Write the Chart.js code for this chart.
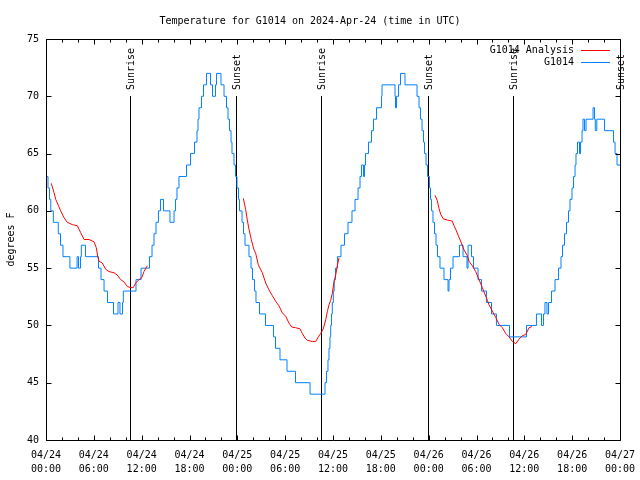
<!DOCTYPE html>
<html><head><meta charset="utf-8">
<script src="https://cdn.jsdelivr.net/npm/chart.js@4.4.1/dist/chart.umd.min.js"></script>
<style>html,body{margin:0;padding:0;background:#fff}#c{display:block}</style>
</head><body>
<canvas id="c" width="640" height="480"></canvas>
<script>
// ---- data (hours since 04/24 00:00 UTC) ----
const chartTitle = 'Temperature for G1014 on 2024-Apr-24 (time in UTC)';
const xTickHours = [0, 6, 12, 18, 24, 30, 36, 42, 48, 54, 60, 66, 72];
const xTickDates = ['04/24','04/24','04/24','04/24','04/25','04/25','04/25','04/25','04/26','04/26','04/26','04/26','04/27'];
const xTickTimes = ['00:00','06:00','12:00','18:00','00:00','06:00','12:00','18:00','00:00','06:00','12:00','18:00','00:00'];
const yTickValues = [40, 45, 50, 55, 60, 65, 70, 75];

// G1014 observations: change points (hour, degrees F)
const obsHours = [0.0,0.25,0.44,0.6,0.92,1.54,1.82,2.13,3.0,3.9,4.08,4.33,4.43,4.95,6.58,6.9,7.28,7.71,8.47,9.03,9.28,9.6,9.7,11.29,11.92,12.98,
  13.3,13.55,13.8,14.1,14.36,14.74,15.55,16.06,16.24,16.43,16.68,17.62,18.13,18.63,18.94,19.07,19.19,19.5,19.76,20.13,20.64,20.89,21.26,21.39,21.95,
  22.33,22.64,22.83,23.02,23.21,23.33,23.58,23.77,23.96,24.15,24.27,24.59,24.77,24.96,25.46,25.72,25.9,26.15,26.34,26.78,27.53,28.54,28.79,29.35,30.23,
  31.3,33.12,35.0,35.19,35.37,35.5,35.62,35.71,35.81,35.91,36.04,36.15,36.31,36.56,37.0,37.44,37.88,38.38,38.76,39.14,39.39,39.58,39.83,39.95,40.08,
  40.45,40.83,41.08,41.46,42.09,42.15,43.78,43.84,43.97,44.22,44.47,45.03,46.54,46.79,46.98,47.17,47.35,47.48,47.67,47.86,48.11,48.23,48.36,48.54,
  48.73,48.92,49.11,49.42,49.92,50.43,50.55,50.74,51.06,51.87,52.31,52.81,52.94,53.37,53.62,54.19,54.63,55.25,55.88,56.5,58.14,60.27,61.52,62.15,
  62.4,62.59,62.84,63.03,63.41,63.85,64.29,64.6,64.79,65.04,65.29,65.54,65.73,65.98,66.17,66.36,66.48,66.67,66.92,67.05,67.24,67.36,67.55,67.74,
  68.62,68.8,68.9,69.09,70.06,71.19,71.38,71.63,72.0];
const obsTemps = [63,62,61,60,59,58,57,56,55,56,55,56,57,56,55,54,53,52,51,52,51,52,53,54,55,56,
  57,58,59,60,61,60,59,60,61,62,63,64,65,66,67,68,69,70,71,72,71,70,71,72,71,
  70,69,68,67,66,65,64,63,62,61,60,59,58,57,56,55,54,53,52,51,50,49,48,47,46,
  45,44,45,46,47,48,49,50,51,52,53,54,55,56,57,58,59,60,61,62,63,64,63,64,65,
  66,67,68,69,70,71,70,69,70,71,72,71,70,69,68,67,66,65,64,63,62,61,60,59,
  58,57,56,55,54,53,54,55,56,57,56,55,57,56,55,54,53,52,51,50,49,50,51,50,
  51,52,51,52,53,54,55,56,57,58,59,60,61,62,63,64,65,66,65,66,67,68,67,68,
  69,68,67,68,67,66,65,64,64];

// G1014 Analysis (null separates the night-time runs)
const anaHours = [0.66,1.0,1.22,1.54,1.84,2.26,2.67,3.3,3.93,4.35,4.77,5.39,6.02,6.3,6.5,6.65,7.06,7.49,7.9,8.53,8.94,9.37,9.78,10.2,10.62,10.95,11.25,11.67,12.0,12.29,12.7,
  18,
  24.75,25.05,25.25,25.46,25.75,26.09,26.3,26.63,27.13,27.56,27.97,28.39,28.81,29.23,29.64,30.07,30.48,30.82,31.32,31.86,32.15,32.49,32.78,33.4,33.83,34.16,34.46,34.78,35.09,35.29,35.5,35.71,35.91,36.13,36.34,36.54,36.75,
  42,
  48.8,49.08,49.3,49.51,49.84,50.34,50.97,51.18,51.39,51.8,52.1,52.43,52.85,53.06,53.48,53.9,54.32,54.73,55.16,55.57,55.99,56.41,56.82,57.24,57.67,58.08,58.5,58.92,59.33,59.75,60.17,60.59,60.93];
const anaTemps = [62.4,61.6,61.0,60.5,60.0,59.4,59.0,58.8,58.7,58.1,57.5,57.5,57.3,56.8,56.0,55.6,55.45,54.9,54.7,54.6,54.4,54.0,53.8,53.4,53.3,53.3,53.7,54.0,54.15,54.7,55.2,
  null,
  61.1,60.1,59.2,58.4,57.5,56.6,56.3,55.3,54.6,53.7,53.1,52.6,52.1,51.7,51.1,50.8,50.2,49.86,49.8,49.7,49.3,48.9,48.7,48.6,48.6,49.0,49.3,49.7,50.5,51.2,51.8,52.2,52.8,53.8,54.4,55.2,55.9,
  null,
  61.35,60.9,60.2,59.7,59.3,59.2,59.1,58.7,58.4,57.7,57.2,56.6,56.1,55.6,55.2,54.7,54.0,53.3,52.55,51.8,51.25,50.7,50.1,49.8,49.3,49.0,48.6,48.4,48.8,49.1,49.2,49.8,49.9];

// Sunrise / sunset
const sunHours = [10.54, 23.85, 34.5, 47.92, 58.58, 71.95];
const sunNames = ['Sunrise','Sunset','Sunrise','Sunset','Sunrise','Sunset'];
const sunLineFrom = 40, sunLineTo = 70;

// ---- chart ----
const FONT = {family: 'DejaVu Sans Mono', size: 10, weight: 'normal'};
const FONTSTR = '10px "DejaVu Sans Mono"';
const toPts = (xs, ys) => xs.map((x, i) => ({x: x, y: ys[i]}));

const gnuplotLook = {
  id: 'gnuplotLook',
  beforeDatasetsDraw(chart) {
    // sunrise / sunset markers, placed through the chart's scales
    const {ctx, scales: {x: xs, y: ys}} = chart;
    ctx.save();
    ctx.strokeStyle = '#000';
    ctx.lineWidth = 1;
    const y0 = Math.round(ys.getPixelForValue(sunLineFrom));
    const y1 = Math.round(ys.getPixelForValue(sunLineTo));
    ctx.beginPath();
    sunHours.forEach(h => {
      const px = Math.round(xs.getPixelForValue(h)) + 0.5;
      ctx.moveTo(px, y0); ctx.lineTo(px, y1);
    });
    ctx.stroke();
    ctx.fillStyle = '#000';
    ctx.font = FONTSTR;
    sunHours.forEach((h, i) => {
      const px = Math.round(xs.getPixelForValue(h));
      ctx.save();
      ctx.translate(px + 1.5, y1 - 6);
      ctx.rotate(-Math.PI / 2);
      ctx.textAlign = 'left';
      ctx.textBaseline = 'middle';
      ctx.fillText(sunNames[i], 0, 0);
      ctx.restore();
    });
    ctx.restore();
  },
  afterDatasetsDraw(chart) {
    const {ctx, chartArea: a, scales} = chart;
    const xs = scales.x, ys = scales.y;
    ctx.save();
    ctx.strokeStyle = '#000';
    ctx.lineWidth = 1;
    const L = Math.round(a.left) + 0.5, R = Math.round(a.right) + 0.5;
    const T = Math.round(a.top) + 0.5, B = Math.round(a.bottom) + 0.5;
    ctx.beginPath();
    ctx.rect(L, T, R - L, B - T);
    // x ticks (major every 6 h, minor every 2 h), bottom and top
    for (let h = xs.min; h <= xs.max; h += 2) {
      const px = Math.round(xs.getPixelForValue(h)) + 0.5;
      const len = (h % 6 === 0) ? 5 : 3;
      ctx.moveTo(px, B); ctx.lineTo(px, B - len);
      ctx.moveTo(px, T); ctx.lineTo(px, T + len);
    }
    // y ticks, left and right
    yTickValues.forEach(v => {
      const py = Math.round(ys.getPixelForValue(v)) + 0.5;
      ctx.moveTo(L, py); ctx.lineTo(L + 5, py);
      ctx.moveTo(R, py); ctx.lineTo(R - 5, py);
    });
    ctx.stroke();

    // legend (gnuplot style: text, then line sample)
    ctx.font = FONTSTR;
    const ds = chart.data.datasets;
    [0, 1].forEach((k, row) => {
      const y = 50 + row * 12;
      ctx.textAlign = 'right';
      ctx.textBaseline = 'middle';
      ctx.fillStyle = '#000';
      ctx.fillText(ds[k].label, a.right - 46, y);
      ctx.beginPath();
      ctx.strokeStyle = ds[k].borderColor;
      ctx.moveTo(a.right - 39, y + 0.5);
      ctx.lineTo(a.right - 10, y + 0.5);
      ctx.stroke();
    });
    ctx.restore();
  }
};

new Chart(document.getElementById('c'), {
  type: 'line',
  data: {
    datasets: [
      {label: 'G1014 Analysis', data: toPts(anaHours, anaTemps), borderColor: '#ff0000', borderWidth: 1,
       pointRadius: 0, tension: 0, spanGaps: false, fill: false},
      {label: 'G1014', data: toPts(obsHours, obsTemps), borderColor: '#0080ff', borderWidth: 1,
       pointRadius: 0, stepped: 'before', fill: false}
    ]
  },
  options: {
    responsive: false,
    animation: false,
    devicePixelRatio: 1,
    events: [],
    layout: {padding: {left: 0, right: 20, top: 0, bottom: 0}},
    plugins: {
      legend: {display: false},
      tooltip: {enabled: false},
      title: {display: true, text: chartTitle, color: '#000', font: FONT, padding: {top: 15, bottom: 12}}
    },
    scales: {
      x: {
        type: 'linear', min: 0, max: 72,
        afterFit: s => { s.height = 40; s.paddingLeft = 0; s.paddingRight = 0; },
        afterBuildTicks: s => { s.ticks = xTickHours.map(v => ({value: v})); },
        grid: {display: false, drawTicks: false},
        border: {display: false},
        ticks: {
          autoSkip: false, maxRotation: 0, minRotation: 0, padding: 8, color: '#000',
          font: {family: 'DejaVu Sans Mono', size: 10, lineHeight: 1.4},
          callback: v => { const i = xTickHours.indexOf(v); return i < 0 ? '' : [xTickDates[i], xTickTimes[i]]; }
        }
      },
      y: {
        type: 'linear', min: 40, max: 75,
        afterFit: s => { s.width = 46; },
        afterBuildTicks: s => { s.ticks = yTickValues.map(v => ({value: v})); },
        grid: {display: false, drawTicks: false},
        border: {display: false},
        ticks: {padding: 7, color: '#000', font: FONT, callback: v => String(v)},
        title: {display: true, text: 'degrees F', color: '#000', font: FONT, padding: {top: 5, bottom: 0}}
      }
    }
  },
  plugins: [gnuplotLook]
});
</script>
</body></html>
